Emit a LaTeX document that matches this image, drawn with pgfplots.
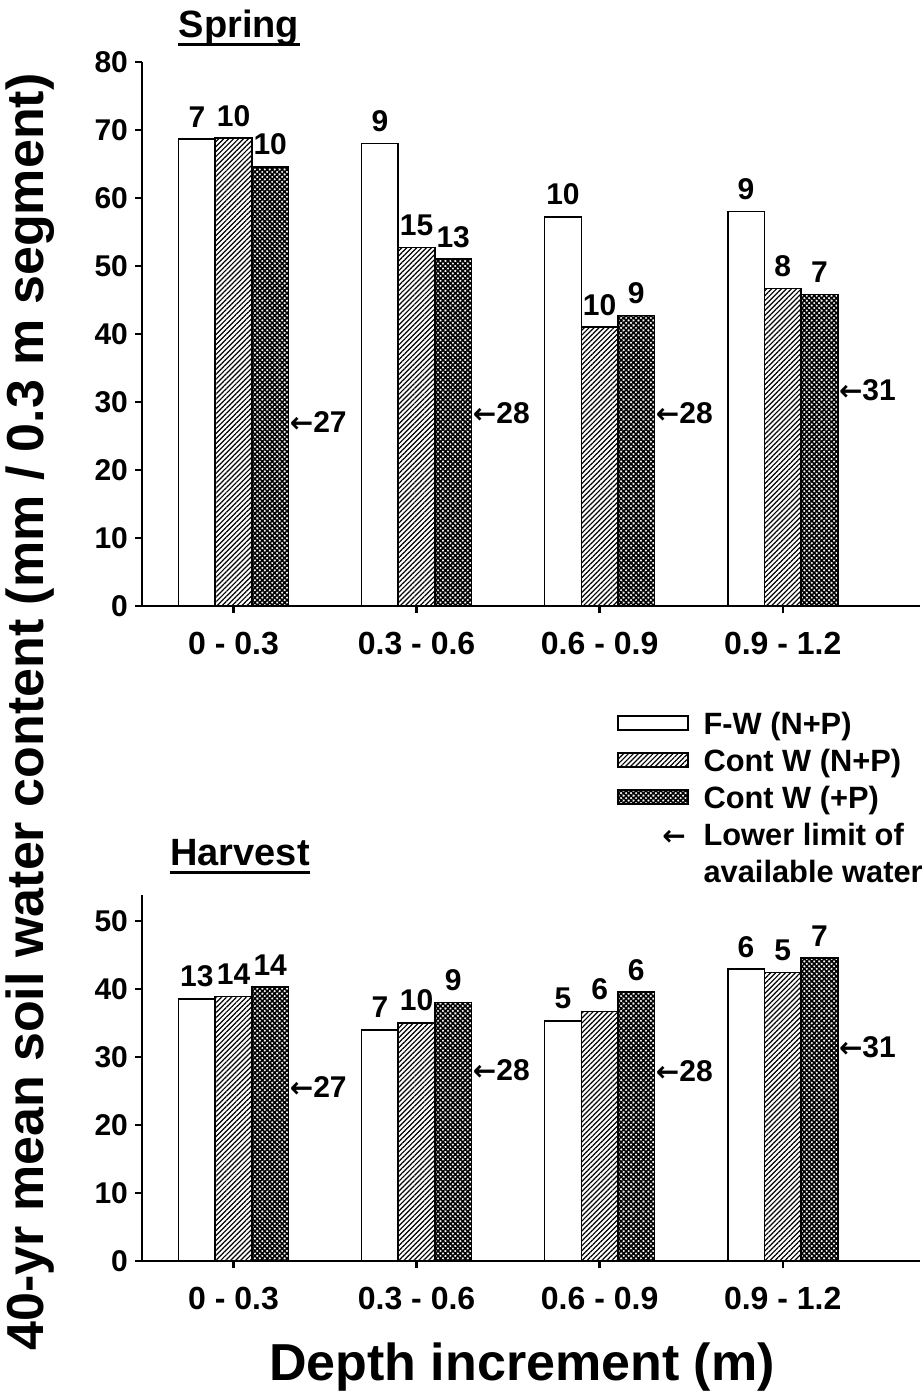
\documentclass[border=0pt]{standalone}
\usepackage{pgfplots}
\pgfplotsset{compat=1.18}
\usetikzlibrary{patterns.meta}
\usepackage{fontspec}
\setmainfont{Liberation Sans}
\newfontfamily\dejavu{DejaVu Sans}
\newcommand\ftick{\fontsize{15}{17}\selectfont\bfseries}
\newcommand\fxtick{\fontsize{16}{18}\selectfont\bfseries}
\newcommand\fbar{\fontsize{15}{17}\selectfont\bfseries}
\newcommand\farr{\fontsize{15}{17}\selectfont\bfseries}
\newcommand\fleg{\fontsize{15.4}{17}\selectfont\bfseries}
\newcommand\flab{\fontsize{26}{28}\selectfont\bfseries}
\newcommand\ftitle{\fontsize{19}{21}\selectfont\bfseries}
\newcommand\larr{{\dejavu\fontsize{14}{16}\selectfont ←}}
\pgfplotsset{
  mybarstyle/.style={
    scale only axis, width=389pt,
    xmin=-0.5, xmax=3.75, ymin=0,
    axis lines=left, axis line style={-, line width=1.4pt},
    tick align=outside, major tick length=3.5pt,
    tick style={line width=1.2pt, black},
    xtick={0,1,2,3},
    xticklabels={0 - 0.3, 0.3 - 0.6, 0.6 - 0.9, 0.9 - 1.2},
    xticklabel style={font=\fxtick, yshift=-6pt},
    yticklabel style={font=\ftick},
    /pgf/number format/assume math mode=true,
    ybar=0pt, bar width=18.33pt,
    clip=false,
    nodes near coords, point meta=explicit symbolic,
    nodes near coords style={font=\fbar, anchor=south, inner sep=0pt, yshift=5.5pt},
  },
  barleg/.style={legend image code/.code={\draw[##1, line width=0.8pt] (0pt,-2pt) rectangle (35pt,5pt);}},
  s1/.style={fill=white, draw=black, line width=0.8pt, barleg},
  s2/.style={draw=black, line width=0.8pt, pattern={Lines[angle=45, distance=1.75pt, line width=0.6pt]}, barleg},
  s3/.style={draw=black, line width=0.8pt, pattern={Hatch[angle=45, distance=1.75pt, line width=0.8pt]}, barleg},
}
\begin{document}
\begin{tikzpicture}
\useasboundingbox (0,0) rectangle (460.5pt,-698.5pt);
% ---------- Spring ----------
\begin{axis}[mybarstyle, at={(71pt,-303pt)}, anchor=south west,
  height=272pt, ymax=80, ytick={0,10,...,80},
  legend style={at={(0.6105,-0.190)}, anchor=north west, draw=none, fill=none,
    inner sep=0pt, outer sep=0pt, font=\fleg, row sep=1.6pt, column sep=6.5pt,
    nodes={inner sep=1pt, text height=11.5pt, text depth=3.4pt}},
  legend cell align=left]
\addplot[ybar, s1] coordinates {(0,68.7)[7] (1,68.0)[9] (2,57.2)[10] (3,58.0)[9]};
\addlegendentry{F-W (N+P)}
\addplot[ybar, s2] coordinates {(0,68.8)[10] (1,52.7)[15] (2,41.0)[10] (3,46.7)[8]};
\addlegendentry{Cont W (N+P)}
\addplot[ybar, s3] coordinates {(0,64.6)[10] (1,51.0)[13] (2,42.7)[9] (3,45.8)[7]};
\addlegendentry{Cont W (+P)}
\addlegendimage{legend image code/.code={\node[anchor=base east, inner sep=0pt] at (34pt,-4.05pt) {\larr};}}
\addlegendentry{Lower limit of}
\addlegendimage{empty legend}
\addlegendentry{available water}
\node[anchor=west, inner sep=0.5pt, font=\farr] at (axis cs:0.3,27) {\larr27};
\node[anchor=west, inner sep=0.5pt, font=\farr] at (axis cs:1.3,28.4) {\larr28};
\node[anchor=west, inner sep=0.5pt, font=\farr] at (axis cs:2.3,28.3) {\larr28};
\node[anchor=west, inner sep=0.5pt, font=\farr] at (axis cs:3.3,31.7) {\larr31};
\end{axis}
% ---------- Harvest ----------
\begin{axis}[mybarstyle, at={(71pt,-630.5pt)}, anchor=south west,
  height=183pt, ymax=53.8, ytick={0,10,...,50}]
\addplot[ybar, s1] coordinates {(0,38.5)[13] (1,34.0)[7] (2,35.3)[5] (3,42.9)[6]};
\addplot[ybar, s2] coordinates {(0,38.9)[14] (1,35.0)[10] (2,36.7)[6] (3,42.4)[5]};
\addplot[ybar, s3] coordinates {(0,40.3)[14] (1,38.0)[9] (2,39.5)[6] (3,44.5)[7]};
\node[anchor=west, inner sep=0.5pt, font=\farr] at (axis cs:0.3,25.6) {\larr27};
\node[anchor=west, inner sep=0.5pt, font=\farr] at (axis cs:1.3,28.1) {\larr28};
\node[anchor=west, inner sep=0.5pt, font=\farr] at (axis cs:2.3,27.9) {\larr28};
\node[anchor=west, inner sep=0.5pt, font=\farr] at (axis cs:3.3,31.5) {\larr31};
\end{axis}
% ---------- titles and labels ----------
\node[anchor=base, inner sep=0pt, font=\ftitle] (sp) at (119.5pt,-18.5pt) {Spring};
\draw[line width=1.5pt] ([yshift=-3.5pt]sp.base west) -- ([yshift=-3.5pt]sp.base east);
\node[anchor=base, inner sep=0pt, font=\ftitle] (hv) at (120pt,-432.5pt) {Harvest};
\draw[line width=1.5pt] ([yshift=-3.5pt]hv.base west) -- ([yshift=-3.5pt]hv.base east);
\node[rotate=90, inner sep=0pt, font=\flab] at (15pt,-356pt) {40-yr mean soil water content (mm / 0.3 m segment)};
\node[inner sep=0pt, font=\flab] at (261pt,-683.5pt) {Depth increment (m)};
\end{tikzpicture}
\end{document}
